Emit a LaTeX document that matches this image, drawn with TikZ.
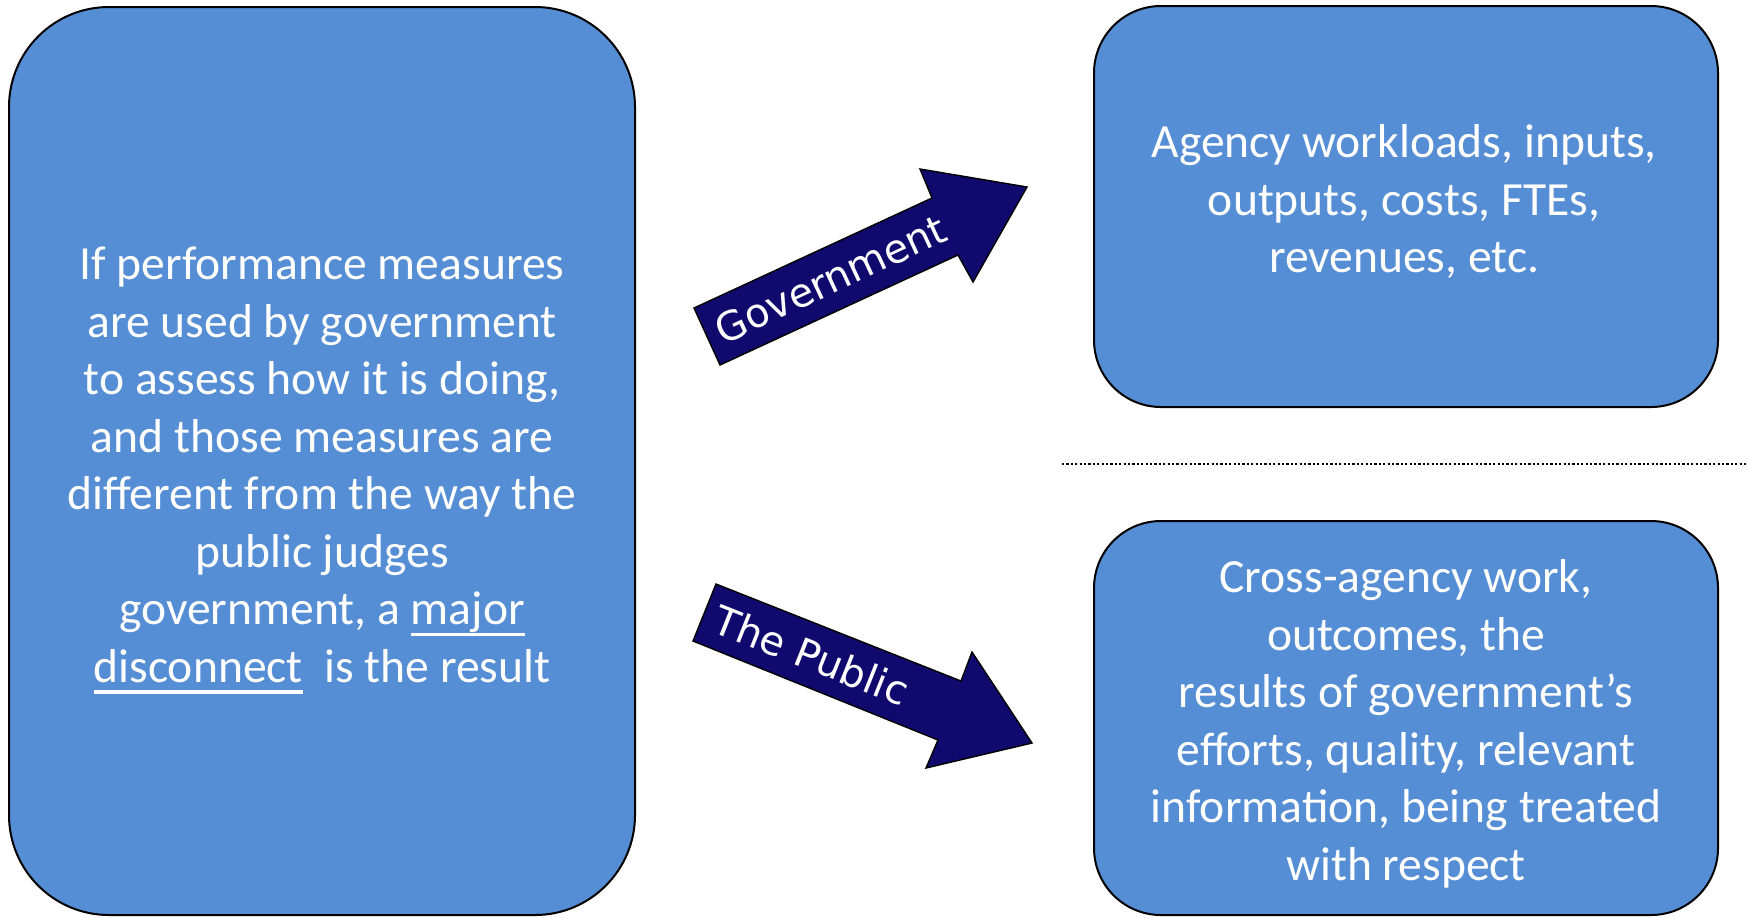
\documentclass[tikz,border=0pt]{standalone}
\usepackage{fontspec}
\setmainfont{Carlito}
\newfontfamily\arrowfont{DejaVu Sans}
\definecolor{boxblue}{RGB}{85,142,213}
\definecolor{navyarrow}{RGB}{17,10,110}
% underline drawn as a rule below the baseline
\newcommand\undl[1]{\setbox0\hbox{#1}\rlap{\rule[-5.75pt]{\wd0}{1.6pt}}\box0}
\begin{document}
\begin{tikzpicture}[x=0.5pt,y=-0.5pt,
  panel/.style={fill=boxblue,draw=black,line width=1pt,inner sep=0pt},
  boxtext/.style={text=white,font=\fontsize{23.8}{28.7}\selectfont,inner sep=0pt,anchor=base},
  bigarrow/.style={fill=navyarrow,draw=black,line width=0.7pt,line join=miter},
  arrowtext/.style={text=white,font=\arrowfont\fontsize{20}{24}\selectfont,inner sep=0pt,anchor=west},
  sepline/.style={draw=black,line width=1pt,dash pattern=on 1.1pt off 1.1pt}]
\useasboundingbox (0,0) rectangle (1748,917);

% panels
\node[panel,rounded corners=50pt,minimum width=313pt,minimum height=454pt] (left) at (322,461) {};
\node[panel,rounded corners=33.5pt,minimum width=312pt,minimum height=200.5pt] (gov) at (1406,206.5) {};
\node[panel,rounded corners=33.5pt,minimum width=312pt,minimum height=197pt] (pub) at (1406,718) {};

% separator
\coordinate (sepL) at (1062,464);
\coordinate (sepR) at (1748,464);
\draw[sepline] (sepL) -- (sepR);

% left panel text
\foreach \txt [count=\i] in {{If performance measures},{are used by government},{to assess how it is doing,},{and those measures are},{different from the way the},{public judges},{government, a \undl{major}},{\undl{disconnect}\ \ is the result}}
  \node[boxtext] (lt-\i) at (322,{279.5+57.5*(\i-1)}) {\txt};

% upper right panel text
\foreach \txt [count=\i] in {{Agency workloads, inputs,},{outputs, costs, FTEs,},{revenues, etc.}}
  \node[boxtext] (gt-\i) at (1404,{157.5+57.5*(\i-1)}) {\txt};

% lower right panel text
\foreach \txt [count=\i] in {{Cross-agency work,},{outcomes, the},{results of government’s},{efforts, quality, relevant},{information, being treated},{with respect}}
  \node[boxtext] (pt-\i) at (1406,{592.5+57.5*(\i-1)}) {\txt};

% block arrow towards government
\coordinate (g1) at (694,308);
\coordinate (g2) at (932,198);
\coordinate (g3) at (920,169);
\coordinate (g4) at (1027,187);
\coordinate (g5) at (973,282);
\coordinate (g6) at (958,255);
\coordinate (g7) at (720,365);
\draw[bigarrow] (g1) -- (g2) -- (g3) -- (g4) -- (g5) -- (g6) -- (g7) -- cycle;
\node[arrowtext,rotate=25] (govlabel) at (717,332) {Government};

% block arrow towards the public
\coordinate (p1) at (716,584);
\coordinate (p2) at (961,681);
\coordinate (p3) at (972,652);
\coordinate (p4) at (1032,743);
\coordinate (p5) at (926,768);
\coordinate (p6) at (938,740);
\coordinate (p7) at (693,641);
\draw[bigarrow] (p1) -- (p2) -- (p3) -- (p4) -- (p5) -- (p6) -- (p7) -- cycle;
\node[arrowtext,rotate=-21.7] (publabel) at (715.6,617) {The Public};
\end{tikzpicture}
\end{document}
